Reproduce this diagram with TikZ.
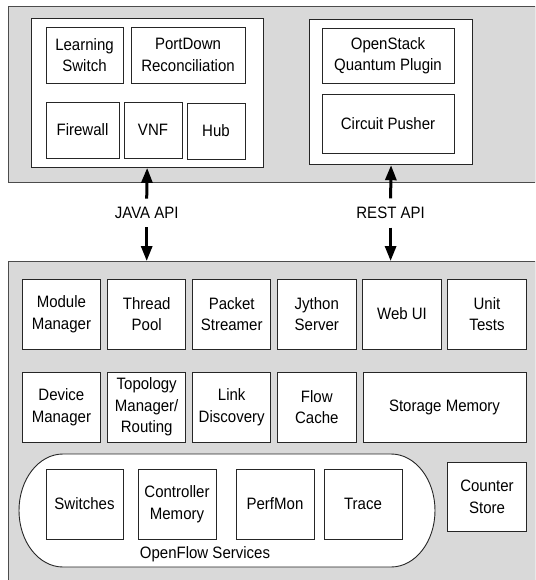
\documentclass[tikz,border=0pt]{standalone}
\usepackage{fontspec}
\setmainfont{Liberation Sans}
\newfontfamily\dfont[FakeStretch=0.91]{Liberation Sans}
\usetikzlibrary{arrows.meta}
\begin{document}
\begin{tikzpicture}[x=1pt,y=-1pt,
  panel/.style={draw=black!70, line width=0.9pt, fill=gray!30, anchor=north west, inner sep=0pt},
  container/.style={draw=black!85, line width=0.9pt, fill=white, anchor=north west, inner sep=0pt},
  box/.style={draw=black!85, line width=0.9pt, fill=white, inner sep=0pt, align=center,
              font=\dfont\fontsize{16.5}{21.7}\selectfont},
  lbl/.style={inner xsep=0pt, inner ysep=8.5pt, font=\dfont\fontsize{16.5}{18}\selectfont},
  api/.style={line width=3pt, -{Triangle[length=15pt,width=11pt]}}]
\useasboundingbox (0,0) rectangle (535,580);
\clip (0,0) rectangle (535,580);

% top panel
\node[panel, minimum width=526.5, minimum height=176] (top) at (8,6) {};
\node[container, minimum width=232, minimum height=149] (leftbox) at (30.7,18) {};
\node[container, minimum width=162.4, minimum height=145.3] (rightbox) at (309.4,19) {};

\node[box, minimum width=77, minimum height=56] (learn) at (84.5,55) {Learning\\Switch};
\node[box, minimum width=114, minimum height=56] (portdown) at (188,55) {PortDown\\Reconciliation};
\node[box, minimum width=73, minimum height=56] (firewall) at (82.5,130) {Firewall};
\node[box, minimum width=58, minimum height=56] (vnf) at (153,130) {VNF};
\node[box, minimum width=58, minimum height=56] (hub) at (216,131) {Hub};

\node[box, minimum width=132, minimum height=55] (openstack) at (388,55.8) {OpenStack\\Quantum Plugin};
\node[box, minimum width=132, minimum height=59] (circuit) at (388,123.8) {Circuit Pusher};

% bottom panel
\node[panel, minimum width=526.5, minimum height=339] (bottom) at (8,261) {};

% APIs
\node[lbl] (java) at (146.7,213) {JAVA API};
\node[lbl] (rest) at (390.6,213) {REST API};
\draw[api] (java.north) -- (leftbox.south);
\draw[api] (java.south) -- (java.south |- bottom.north);
\draw[api] (rest.north) -- (rightbox.south);
\draw[api] (rest.south) -- (rest.south |- bottom.north);

% row 1
\node[box, minimum width=78.4, minimum height=70] (module) at (61.4,314) {Module\\Manager};
\node[box, minimum width=78.4, minimum height=70] (thread) at (146.7,314) {Thread\\Pool};
\node[box, minimum width=78.4, minimum height=70] (packet) at (231.7,314) {Packet\\Streamer};
\node[box, minimum width=78.4, minimum height=70] (jython) at (316.8,314) {Jython\\Server};
\node[box, minimum width=78.4, minimum height=70] (webui) at (402,314) {Web UI};
\node[box, minimum width=78.4, minimum height=70] (unit) at (487,314) {Unit\\Tests};

% row 2
\node[box, minimum width=78.4, minimum height=70] (device) at (61.4,407) {Device\\Manager};
\node[box, minimum width=78.4, minimum height=70] (topo) at (146.7,407) {Topology\\Manager/\\Routing};
\node[box, minimum width=78.4, minimum height=70] (link) at (231.7,407) {Link\\Discovery};
\node[box, minimum width=78.4, minimum height=70] (flow) at (316.8,407) {Flow\\Cache};
\node[box, minimum width=163, minimum height=70] (storage) at (444.5,407) {Storage Memory};

% OpenFlow services container
\draw[draw=black!85, line width=0.9pt, fill=white]
  (63,454) -- (391,454)
  .. controls (415.3,454) and (435,479.3) .. (435,510.5)
  .. controls (435,541.7) and (415.3,567) .. (391,567)
  -- (63,567)
  .. controls (38.7,567) and (19,541.7) .. (19,510.5)
  .. controls (19,479.3) and (38.7,454) .. (63,454) -- cycle;

\node[box, minimum width=77, minimum height=70] (switches) at (84.5,504) {Switches};
\node[box, minimum width=78, minimum height=70] (ctrlmem) at (177,504) {Controller\\Memory};
\node[box, minimum width=78, minimum height=70] (perfmon) at (275,504) {PerfMon};
\node[box, minimum width=78, minimum height=70] (trace) at (363,504) {Trace};
\node[inner sep=0pt, font=\dfont\fontsize{16.5}{18}\selectfont] (ofslabel) at (205,554) {OpenFlow Services};

\node[box, minimum width=78.4, minimum height=69] (counter) at (487,496.5) {Counter\\Store};
\end{tikzpicture}
\end{document}
